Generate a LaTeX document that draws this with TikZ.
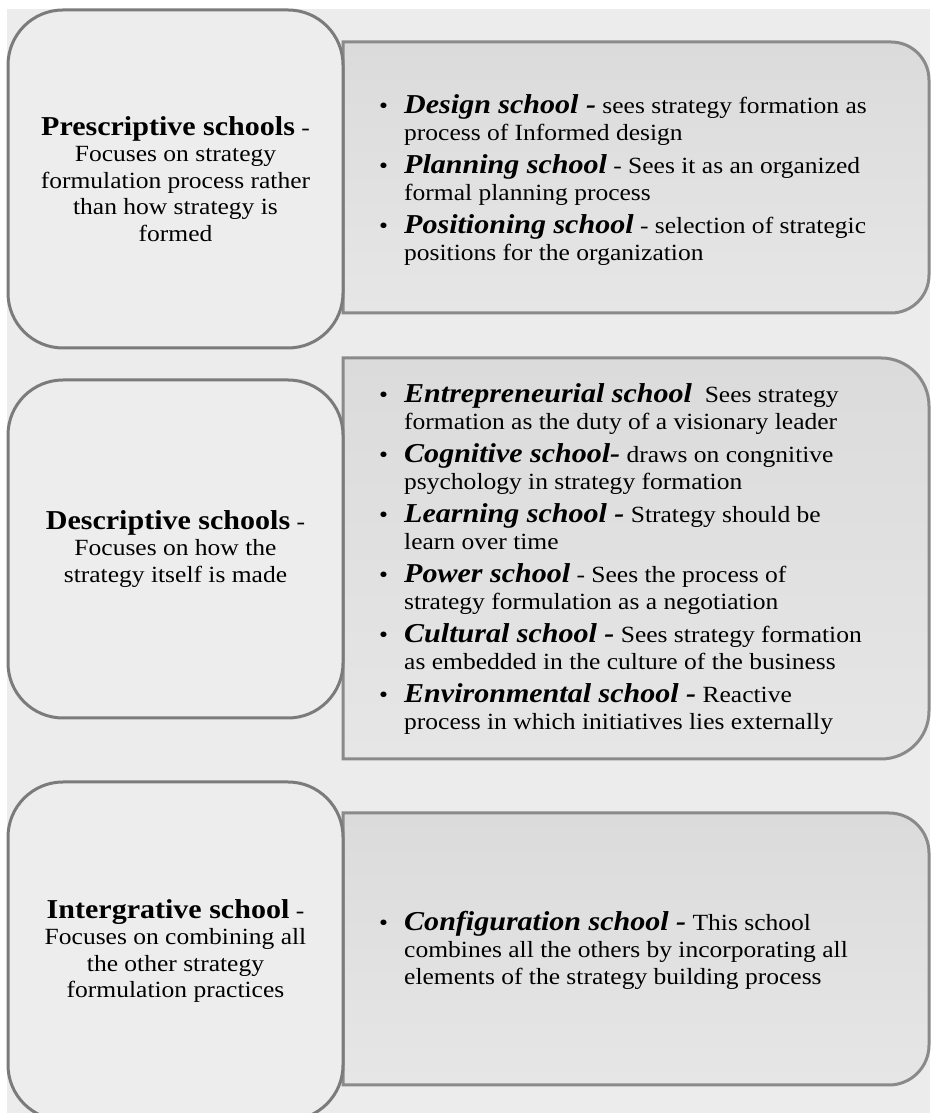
\documentclass[tikz,border=0pt]{standalone}
\usepackage{fontspec}
\setmainfont{Liberation Serif}[FakeStretch=1.1]
\definecolor{bg}{HTML}{ECECEC}
\definecolor{lbfill}{HTML}{EDEDED}
\definecolor{lbline}{HTML}{7B7B7B}
\definecolor{rbline}{HTML}{8A8A8A}
\definecolor{rtop}{HTML}{DBDBDB}
\definecolor{rbot}{HTML}{E6E6E6}
\newcommand{\ttl}[1]{{\fontsize{27.3}{26.5}\selectfont\bfseries #1}}
\newcommand{\nm}[1]{{\fontsize{27.3}{27}\selectfont\bfseries\itshape #1}}
\newcommand{\bul}{\makebox[25pt][l]{•}}
\newcommand{\cont}{\hspace*{25pt}}
\tikzset{
  leftbox/.style={draw=lbline, line width=3pt, fill=lbfill, rounded corners=55pt,
    minimum width=335pt, minimum height=338pt, inner sep=0pt, align=center,
    font=\fontsize{23.2}{26.5}\selectfont},
  rightbox/.style={draw=rbline, line width=3pt, top color=rtop, bottom color=rbot},
  righttext/.style={align=left, inner sep=0pt, anchor=west,
    font=\fontsize{23.2}{27}\selectfont},
}
\begin{document}
\lineskiplimit=-20pt\relax
\begin{tikzpicture}[x=1pt,y=1pt]
\useasboundingbox (0,0) rectangle (930,1113);
\fill[white] (0,0) rectangle (930,1113);
\fill[bg] (7,0) rectangle (930,1104);
% right boxes
\draw[rightbox] (343,1071) -- (891,1071) arc[start angle=90,end angle=0,radius=38]
  -- (929,838) arc[start angle=0,end angle=-90,radius=38] -- (343,800) -- cycle;
\draw[rightbox] (343,755) -- (881,755) arc[start angle=90,end angle=0,radius=48]
  -- (929,402) arc[start angle=0,end angle=-90,radius=48] -- (343,354) -- cycle;
\draw[rightbox] (343,300) -- (889,300) arc[start angle=90,end angle=0,radius=40]
  -- (929,68) arc[start angle=0,end angle=-90,radius=40] -- (343,28) -- cycle;
% left boxes
\node[leftbox] (pres) at (175.5,934) {\ttl{Prescriptive schools} -\\Focuses on strategy\\formulation process rather\\than how strategy is\\formed};
\node[leftbox] (desc) at (175.5,564) {\ttl{Descriptive schools} -\\Focuses on how the\\strategy itself is made};
\node[leftbox] (integ) at (175.5,162) {\ttl{Intergrative school} -\\Focuses on combining all\\the other strategy\\formulation practices};
% right texts
\node[righttext] (prest) at (379,933) {%
\bul\nm{Design school -} sees strategy formation as\\
\cont process of Informed design\\[6pt]
\bul\nm{Planning school} - Sees it as an organized\\
\cont formal planning process\\[6pt]
\bul\nm{Positioning school} - selection of strategic\\
\cont positions for the organization};
\node[righttext] (desct) at (379,554) {%
\bul\nm{Entrepreneurial school}\ \ Sees strategy\\
\cont formation as the duty of a visionary leader\\[6pt]
\bul\nm{Cognitive school-} draws on congnitive\\
\cont psychology in strategy formation\\[6pt]
\bul\nm{Learning school -} Strategy should be\\
\cont learn over time\\[6pt]
\bul\nm{Power school} - Sees the process of\\
\cont strategy formulation as a negotiation\\[6pt]
\bul\nm{Cultural school -} Sees strategy formation\\
\cont as embedded in the culture of the business\\[6pt]
\bul\nm{Environmental school -} Reactive\\
\cont process in which initiatives lies externally};
\node[righttext] (integt) at (379,162.5) {%
\bul\nm{Configuration school -} This school\\
\cont combines all the others by incorporating all\\
\cont elements of the strategy building process};
\end{tikzpicture}
\end{document}
